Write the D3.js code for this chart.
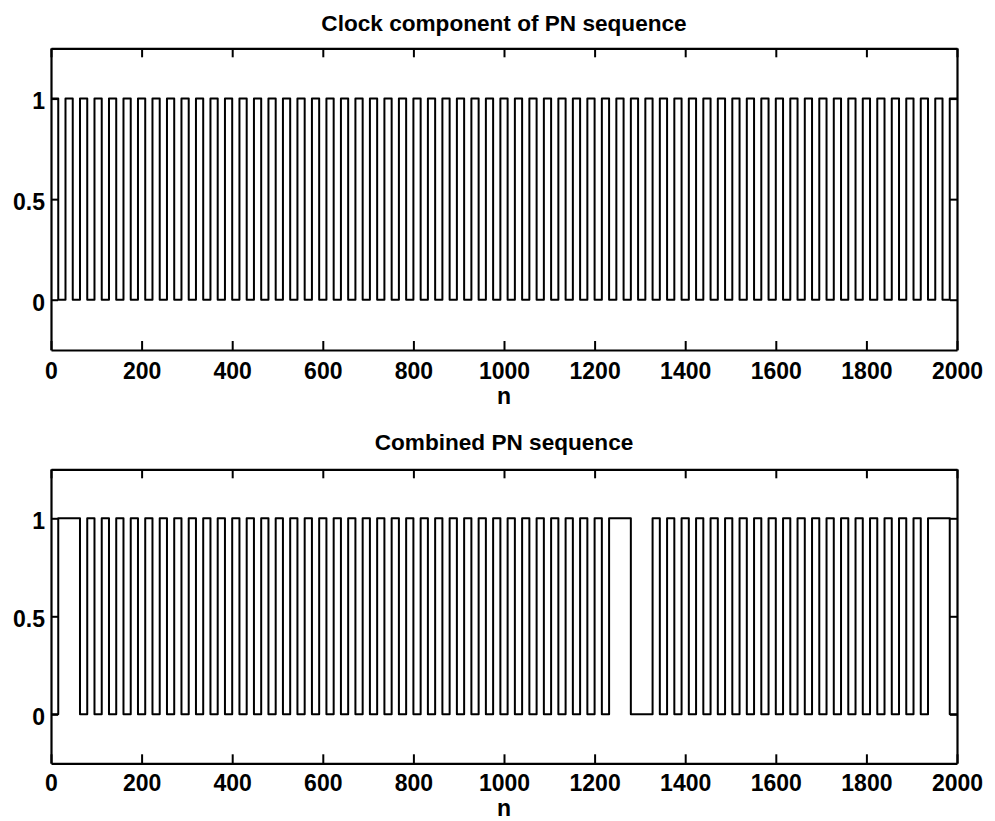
<!DOCTYPE html>
<html>
<head>
<meta charset="utf-8">
<script src="https://cdn.jsdelivr.net/npm/d3@7"></script>
<style>
  html, body { margin: 0; padding: 0; background: #fff; }
  svg { display: block; }
  text { font-family: "Liberation Sans", Arial, Helvetica, sans-serif; font-weight: bold; fill: #000; }
</style>
</head>
<body>
<svg id="fig" width="995" height="821"></svg>
<script>
// Chip values (one entry per 16-sample chip, n = 0 … 2000)
const clockChips = [
  1,0,1,0,1,0,1,0,1,0,1,0,1,0,1,0,
  1,0,1,0,1,0,1,0,1,0,1,0,1,0,1,0,
  1,0,1,0,1,0,1,0,1,0,1,0,1,0,1,0,
  1,0,1,0,1,0,1,0,1,0,1,0,1,0,1,0,
  1,0,1,0,1,0,1,0,1,0,1,0,1,0,1,0,
  1,0,1,0,1,0,1,0,1,0,1,0,1,0,1,0,
  1,0,1,0,1,0,1,0,1,0,1,0,1,0,1,0,
  1,0,1,0,1,0,1,0,1,0,1,0,1
];
const combinedChips = [
  0,1,1,1,0,1,0,1,0,1,0,1,0,1,0,1,
  0,1,0,1,0,1,0,1,0,1,0,1,0,1,0,1,
  0,1,0,1,0,1,0,1,0,1,0,1,0,1,0,1,
  0,1,0,1,0,1,0,1,0,1,0,1,0,1,0,1,
  0,1,0,1,0,1,0,1,0,1,0,1,0,1,1,1,
  0,0,0,1,0,1,0,1,0,1,0,1,0,1,0,1,
  0,1,0,1,0,1,0,1,0,1,0,1,0,1,0,1,
  0,1,0,1,0,1,0,1,0,1,1,1,0
];
const chipLength = 16;
const sampleCount = 2000;

const xTickValues = [0, 200, 400, 600, 800, 1000, 1200, 1400, 1600, 1800, 2000];
const yTickValues = [0, 0.5, 1];
const yTickLabels = ["0", "0.5", "1"];
const panelTitles = ["Clock component of PN sequence", "Combined PN sequence"];
const xLabelText = "n";

const svg = d3.select("#fig");
const left = 51, right = 957;
const fontSize = 23;

const panels = [
  { title: panelTitles[0], chips: clockChips,    top: 48.3,  bottom: 350,   titleY: 30.5, xLabelY: 404, pad: 13 },
  { title: panelTitles[1], chips: combinedChips, top: 469.3, bottom: 763.3, titleY: 450,  xLabelY: 816, pad: 11 }
];

function styleAxis(g) {
  g.attr("font-family", null).attr("font-size", null);
  g.selectAll("text").style("font-size", fontSize + "px");
  g.selectAll("path.domain").attr("stroke", "#000").attr("stroke-width", 2.2);
  g.selectAll(".tick line").attr("stroke", "#000").attr("stroke-width", 2);
}

panels.forEach(p => {
  const x = d3.scaleLinear().domain([0, sampleCount]).range([left, right]);
  const y = d3.scaleLinear().domain([-0.25, 1.25]).range([p.bottom, p.top]);

  const pts = p.chips.map((v, i) => ({ n: i * chipLength, v }));
  pts.push({ n: sampleCount, v: p.chips[p.chips.length - 1] });

  const line = d3.line()
    .x(d => x(d.n))
    .y(d => y(d.v))
    .curve(d3.curveStepAfter);

  svg.append("path")
    .datum(pts)
    .attr("d", line)
    .attr("fill", "none")
    .attr("stroke", "#000")
    .attr("stroke-width", 2)
    .attr("stroke-linejoin", "round");

  // bottom axis with labels
  svg.append("g")
    .attr("transform", `translate(0,${p.bottom})`)
    .call(d3.axisBottom(x).tickValues(xTickValues).tickFormat(d3.format("d"))
      .tickSizeInner(-9).tickSizeOuter(0).tickPadding(p.pad))
    .call(styleAxis);

  // top axis (ticks only)
  svg.append("g")
    .attr("transform", `translate(0,${p.top})`)
    .call(d3.axisTop(x).tickValues(xTickValues).tickFormat("")
      .tickSizeInner(-9).tickSizeOuter(0))
    .call(styleAxis);

  // left axis with labels
  svg.append("g")
    .attr("transform", `translate(${left},0)`)
    .call(d3.axisLeft(y).tickValues(yTickValues).tickFormat((d, i) => yTickLabels[i])
      .tickSizeInner(-7).tickSizeOuter(0).tickPadding(6))
    .call(styleAxis)
    .call(g => g.selectAll("text").attr("dy", "0.45em"));

  // right axis (ticks only)
  svg.append("g")
    .attr("transform", `translate(${right},0)`)
    .call(d3.axisRight(y).tickValues(yTickValues).tickFormat("")
      .tickSizeInner(-7).tickSizeOuter(0))
    .call(styleAxis);

  // title
  svg.append("text")
    .attr("x", (left + right) / 2)
    .attr("y", p.titleY)
    .attr("text-anchor", "middle")
    .style("font-size", "22.6px")
    .text(p.title);

  // x label
  svg.append("text")
    .attr("x", (left + right) / 2)
    .attr("y", p.xLabelY)
    .attr("text-anchor", "middle")
    .style("font-size", fontSize + "px")
    .text(xLabelText);
});
</script>
</body>
</html>
